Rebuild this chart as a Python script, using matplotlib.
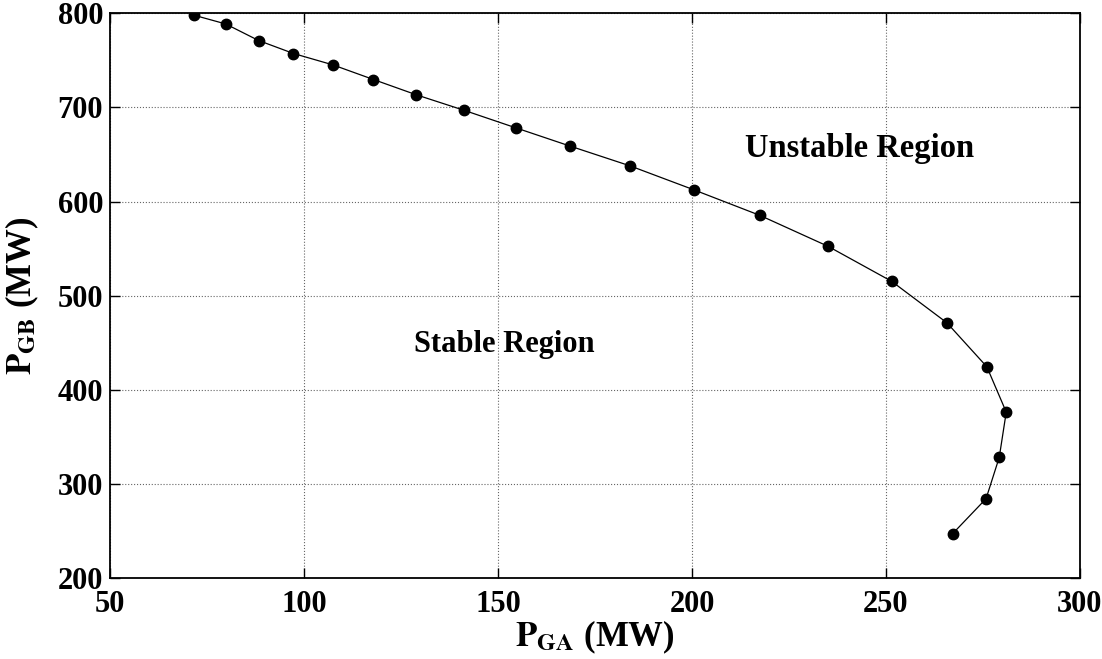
import matplotlib
matplotlib.use("Agg")
import matplotlib.pyplot as plt

# stability boundary points
p_ga = [71.6, 79.8, 88.3, 97.3, 107.4, 117.9, 129.0, 141.2, 154.6, 168.6,
        184.0, 200.5, 217.5, 235.1, 251.5, 265.7, 276.0, 281.0, 279.2, 275.8, 267.2]
p_gb = [797.9, 788.6, 771.0, 757.2, 745.2, 729.6, 713.3, 697.0, 678.3, 658.9,
        638.0, 612.5, 585.4, 552.5, 515.3, 471.4, 424.7, 376.6, 328.6, 284.7, 247.6]

x_ticks = [50, 100, 150, 200, 250, 300]
y_ticks = [200, 300, 400, 500, 600, 700, 800]

plt.rcParams['font.family'] = ['Liberation Serif', 'DejaVu Serif']
plt.rcParams['font.weight'] = 'bold'
plt.rcParams['mathtext.fontset'] = 'stix'

fig = plt.figure(figsize=(11.02, 6.59), dpi=100)
ax = fig.add_axes([0.0998, 0.1222, 0.8802, 0.8578])

ax.plot(p_ga, p_gb, '-', color='black', linewidth=0.9,
        marker='o', markersize=7.5, markerfacecolor='black', markeredgecolor='black')

ax.set_xlim(50, 300)
ax.set_ylim(200, 800)
ax.set_xticks(x_ticks)
ax.set_yticks(y_ticks)
ax.grid(True, linestyle=':', color='#666666', linewidth=0.8)

ax.tick_params(direction='in', length=7, width=1, top=True, right=True,
               labelsize=22)
ax.tick_params(axis='x', pad=8)
ax.tick_params(axis='y', pad=5)
for lab in ax.get_xticklabels() + ax.get_yticklabels():
    lab.set_fontweight('bold')
for s in ax.spines.values():
    s.set_linewidth(1.3)

ax.set_xlabel(r'$\mathbf{P}_{\mathbf{GA}}$ (MW)', fontsize=25, fontweight='bold', labelpad=0)
ax.set_ylabel(r'$\mathbf{P}_{\mathbf{GB}}$ (MW)', fontsize=25, fontweight='bold', labelpad=12)

ax.text(243.3, 647.5, 'Unstable Region', fontsize=23.5, fontweight='bold',
        ha='center', va='baseline')
ax.text(151.7, 440.6, 'Stable Region', fontsize=22, fontweight='bold',
        ha='center', va='baseline')

fig.savefig('out.png', dpi=100)
